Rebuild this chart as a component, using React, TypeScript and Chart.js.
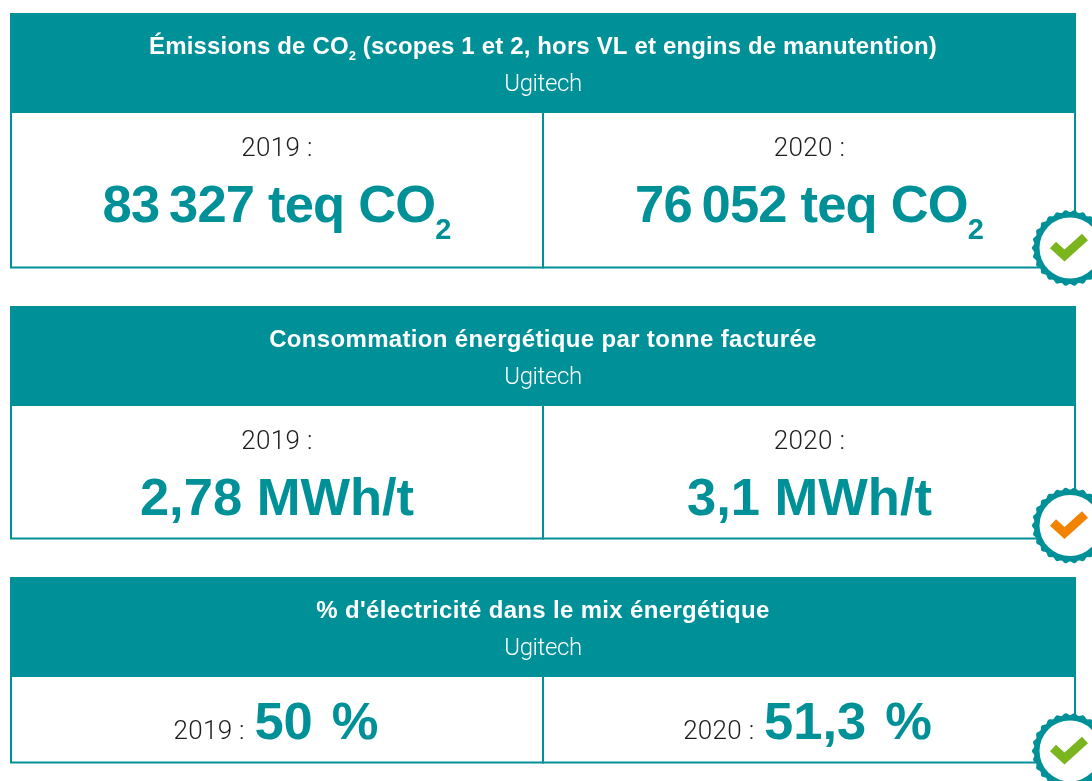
import React, { useEffect, useRef } from "react";
import { Chart, registerables } from "chart.js";
Chart.register(...registerables);

// ---- content
const panelTitles = [
  ["Émissions de CO", "2", " (scopes 1 et 2, hors VL et engins de manutention)"],
  ["Consommation énergétique par tonne facturée"],
  ["% d'électricité dans le mix énergétique"],
];
const siteName = "Ugitech";
const years = ["2019 :", "2020 :"];
const values2019 = [["83\u2009327 teq CO", "2"], ["2,78 MWh/t"], ["50 \u200a%"]];
const values2020 = [["76\u2009052 teq CO", "2"], ["3,1 MWh/t"], ["51,3 \u200a%"]];
const badgeStatus = ["good", "warning", "good"];

// ---- styles and layout (page pixels = axis units)
const TEAL = "#009098";
const INK = "#1d1d1b";
const STATUS: Record<string, string> = { good: "#7ab51d", warning: "#f18300" };
const HELV = '"Liberation Sans", Arial, sans-serif';
const LIGHT = 'Roboto, "Liberation Sans", sans-serif';
const panelTop = [13, 306, 577];
const panelBottom = [268.5, 539.5, 763.5];
const badgeY = [248, 525.5, 751];
const LEFT = 11, RIGHT = 1076, MID = 543, HEAD = 100;

type Run = { t: string; font: string; color: string; dy?: number; ls?: string };

function drawRuns(ctx: CanvasRenderingContext2D, runs: Run[], cx: number, y: number) {
  let w = 0;
  const widths = runs.map((r) => {
    ctx.font = r.font;
    (ctx as any).letterSpacing = r.ls || "0px";
    const m = ctx.measureText(r.t).width;
    w += m;
    return m;
  });
  let x = cx - w / 2;
  ctx.textAlign = "left";
  ctx.textBaseline = "alphabetic";
  runs.forEach((r, i) => {
    ctx.font = r.font;
    (ctx as any).letterSpacing = r.ls || "0px";
    ctx.fillStyle = r.color;
    ctx.fillText(r.t, x, y + (r.dy || 0));
    x += widths[i];
  });
  (ctx as any).letterSpacing = "0px";
}

function drawBadge(ctx: CanvasRenderingContext2D, cx: number, cy: number, color: string) {
  const n = 26;
  ctx.beginPath();
  for (let i = 0; i <= 720; i++) {
    const a = (i * Math.PI) / 360;
    const r = 37 + 1 * Math.cos(n * a);
    const px = cx + r * Math.cos(a), py = cy + r * Math.sin(a);
    i === 0 ? ctx.moveTo(px, py) : ctx.lineTo(px, py);
  }
  ctx.closePath();
  ctx.fillStyle = TEAL;
  ctx.fill();
  ctx.beginPath();
  ctx.arc(cx, cy, 30.5, 0, Math.PI * 2);
  ctx.fillStyle = "#fff";
  ctx.fill();
  ctx.beginPath();
  ctx.moveTo(cx - 17, cy - 3);
  ctx.lineTo(cx - 5.5, cy + 7.5);
  ctx.lineTo(cx + 15, cy - 11);
  ctx.strokeStyle = color;
  ctx.lineWidth = 9;
  ctx.lineJoin = "miter";
  ctx.stroke();
}

const panelsPlugin = {
  id: "panels",
  afterDatasetsDraw(chart: any) {
    const ctx: CanvasRenderingContext2D = chart.ctx;
    const X = (v: number) => chart.scales.x.getPixelForValue(v);
    const Y = (v: number) => chart.scales.y.getPixelForValue(v);
    ctx.save();
    panelTitles.forEach((title, i) => {
      const top = panelTop[i], bottom = panelBottom[i];
      ctx.fillStyle = TEAL;
      ctx.fillRect(X(LEFT - 1), Y(top), X(RIGHT) - X(LEFT - 1), HEAD);
      ctx.strokeStyle = TEAL;
      ctx.lineWidth = 2;
      ctx.strokeRect(X(LEFT), Y(top + 1), X(RIGHT - 1) - X(LEFT), Y(bottom - 1) - Y(top + 1));
      ctx.beginPath();
      ctx.moveTo(X(MID), Y(top + HEAD));
      ctx.lineTo(X(MID), Y(bottom));
      ctx.stroke();

      const titleRuns: Run[] = title.map((t, k) => ({
        t,
        font: k === 1 ? `bold 13px ${HELV}` : `bold 24px ${HELV}`,
        color: "#fff",
        dy: k === 1 ? 6 : 0,
        ls: k === 1 ? "0px" : i === 0 ? "0.15px" : "0.33px",
      }));
      drawRuns(ctx, titleRuns, X(543), Y(top + 41));
      drawRuns(ctx, [{ t: siteName, font: `300 24px ${LIGHT}`, color: "#fff", ls: "-0.4px" }], X(543), Y(top + 78));

      [values2019[i], values2020[i]].forEach((val, c) => {
        const cx = c === 0 ? (i === 2 ? 276 : 277) : (i === 2 ? 807.5 : 809.5);
        const bigRuns: Run[] = val.map((t, k) => ({
          t,
          font: k === 1 ? `bold 29px ${HELV}` : `bold 52.5px ${HELV}`,
          color: TEAL,
          dy: k === 1 ? 17 : 0,
          ls: i === 0 && k === 0 ? "-0.8px" : "0px",
        }));
        if (i === 2) {
          const row: Run[] = [{ t: years[c] + " \u200a", font: `300 26px ${LIGHT}`, color: INK, ls: "0.3px" }, ...bigRuns];
          drawRuns(ctx, row, X(cx), Y(top + 162));
        } else {
          drawRuns(ctx, [{ t: years[c], font: `300 26px ${LIGHT}`, color: INK, ls: "0.3px" }], X(cx), Y(top + 143));
          drawRuns(ctx, bigRuns, X(cx), Y(top + 209));
        }
      });
      drawBadge(ctx, X(1070), Y(badgeY[i]), STATUS[badgeStatus[i]]);
    });
    ctx.restore();
  },
};

export default function App() {
  const ref = useRef<HTMLCanvasElement>(null);
  useEffect(() => {
    const chart = new Chart(ref.current!, {
      type: "scatter",
      data: { datasets: [{ data: [], pointRadius: 0 }] },
      options: {
        animation: false,
        responsive: false,
        layout: { padding: 0 },
        plugins: { legend: { display: false }, tooltip: { enabled: false } },
        scales: {
          x: { type: "linear", min: 0, max: 1092, display: false },
          y: { type: "linear", min: 0, max: 781, reverse: true, display: false },
        },
      },
      plugins: [panelsPlugin],
    } as any);
    return () => chart.destroy();
  }, []);
  return (
    <div style={{ position: "fixed", left: 0, top: 0, width: 1092, height: 781, background: "#fff", overflow: "hidden" }}>
      <canvas ref={ref} width={1092} height={781} style={{ display: "block" }} />
    </div>
  );
}
